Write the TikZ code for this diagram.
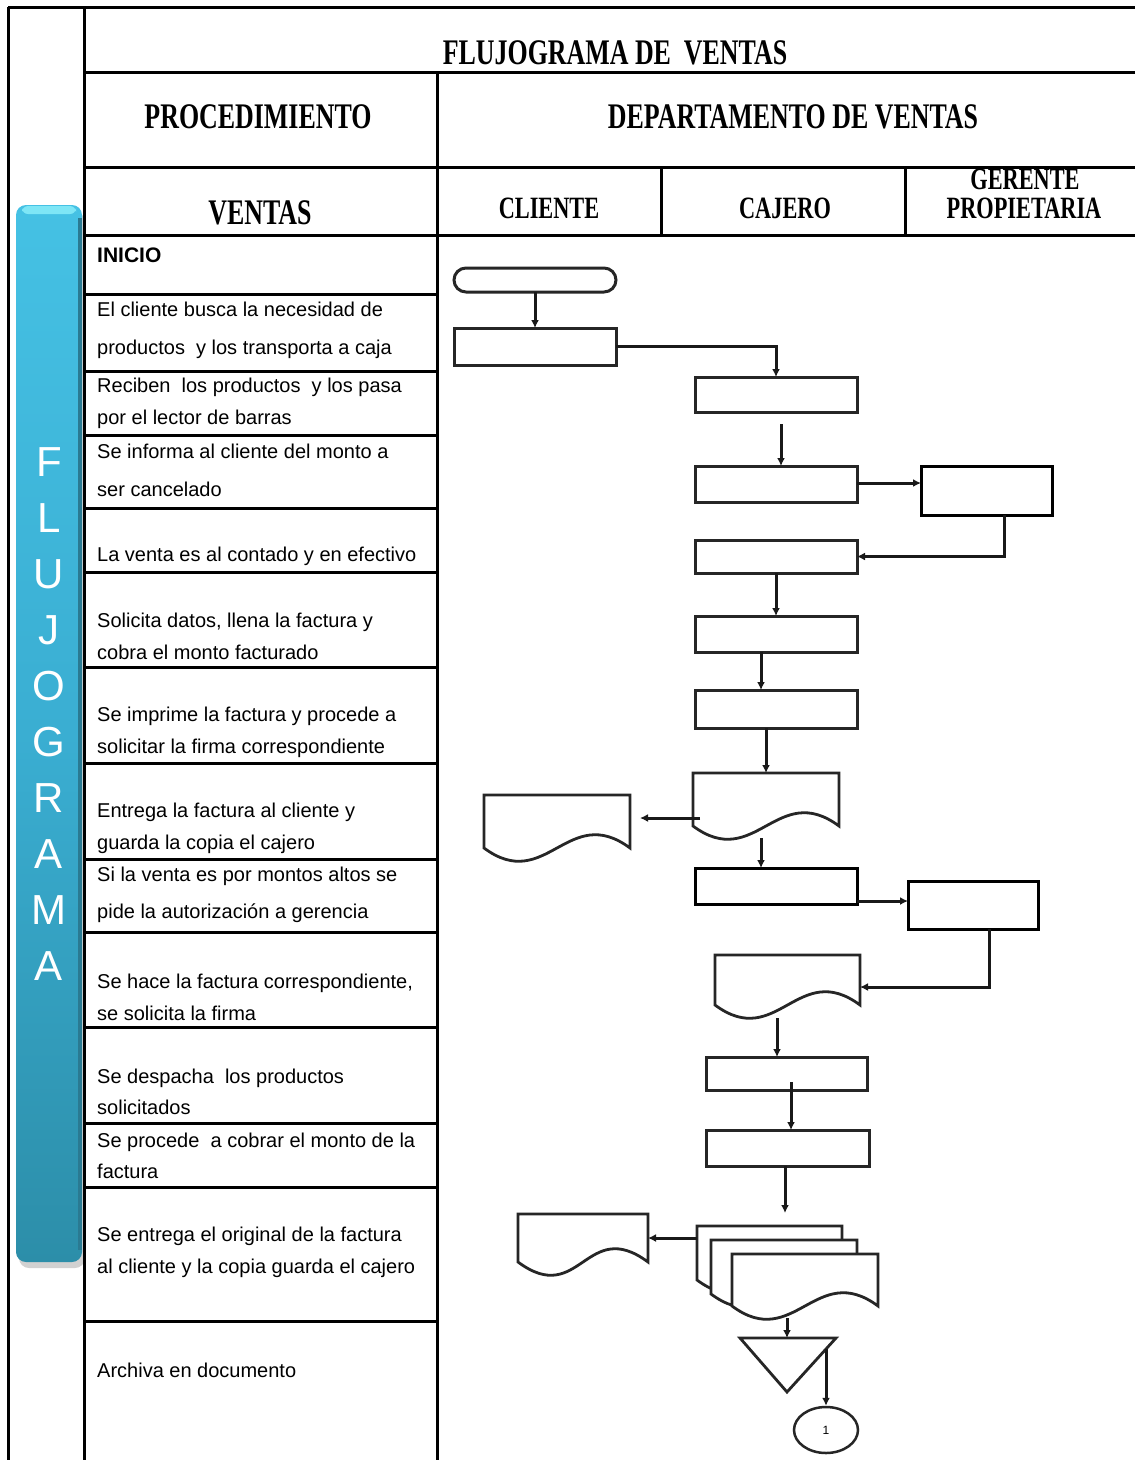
\documentclass[tikz,border=0pt]{standalone}
\usepackage{fontspec}
\usepackage{graphicx}
\setmainfont{Liberation Sans}
\newfontfamily\hdrfont{Liberation Serif}
\usetikzlibrary{arrows.meta,calc,shapes.geometric}

\definecolor{bartop}{HTML}{45C1E4}
\definecolor{barmid}{HTML}{3AAED2}
\definecolor{barbot}{HTML}{2C8EA9}
\definecolor{baredge}{HTML}{2A7A92}
\definecolor{barhi}{HTML}{7EE6F6}

% condensed bold serif for the table headings
\newcommand{\hdr}[2]{{\hdrfont\bfseries\fontsize{#1}{#1}\selectfont\scalebox{0.72}[1]{#2}}}

\tikzset{
  tbl/.style={line width=3pt, black},
  box/.style={rectangle, draw=black!85, line width=3pt, fill=white,
              inner sep=0pt, outer sep=0pt},
  docnode/.style={rectangle, draw=none, inner sep=0pt, outer sep=0pt},
  docpath/.style={insert path={(#1.south west) -- (#1.north west) -- (#1.north east)
      -- (#1.south east) .. controls +(-62,-46) and +(62,46) .. (#1.south west) -- cycle}},
  docline/.style={draw=black!85, line width=2.8pt, fill=white, line join=miter},
  arr/.style={draw=black!90, line width=3pt, -{Latex[length=8pt,width=8pt]}},
  proc/.style={anchor=west, align=left, inner sep=0pt, font=\fontsize{20}{#1}\selectfont},
  proc/.default=32,
  barletter/.style={text=white, inner sep=0pt, font=\fontsize{42}{42}\selectfont},
}

\begin{document}
\begin{tikzpicture}[x=1pt,y=-1pt]
\useasboundingbox (0,0) rectangle (1135,1460);
\fill[white] (0,0) rectangle (1135,1460);

% ---------- side bar ----------
\fill[black!18, rounded corners=10pt] (19,212) rectangle (85,1268);
\shade[top color=bartop, bottom color=barbot, middle color=barmid, rounded corners=10pt]
  (16,205) rectangle (82,1262);
\fill[barhi, rounded corners=6pt] (22,206) rectangle (76,214);
\fill[baredge] (78,218) rectangle (82,1250);
\foreach \ch [count=\i] in {F,L,U,J,O,G,R,A,M,A}
  \node[barletter] (bl\i) at (49,406+56*\i) {\ch};

% ---------- table ----------
\draw[tbl] (8,7) -- (1135,7);
\draw[tbl] (8,7) -- (8,1460);
\draw[tbl] (84,7) -- (84,1460);
\draw[tbl] (84,72) -- (1135,72);
\draw[tbl] (84,167) -- (1135,167);
\draw[tbl] (84,235) -- (1135,235);
\draw[tbl] (437,72) -- (437,1460);
\draw[tbl] (661,167) -- (661,235);
\draw[tbl] (905,167) -- (905,235);
\foreach \yy in {294,371,435,508,572,667,763,859,932,1027,1123,1187,1321}
  \draw[tbl] (84,\yy) -- (437,\yy);

% ---------- headings ----------
\node[anchor=base] (title) at (615,64) {\hdr{36}{FLUJOGRAMA DE\ \ VENTAS}};
\node[anchor=base] (hproc) at (258,128) {\hdr{36}{PROCEDIMIENTO}};
\node[anchor=base] (hdep) at (793,128) {\hdr{36}{DEPARTAMENTO DE VENTAS}};
\node[anchor=base] (hven) at (260,224) {\hdr{36}{VENTAS}};
\node[anchor=base] (hcli) at (549,218.5) {\hdr{31}{CLIENTE}};
\node[anchor=base] (hcaj) at (785,218.5) {\hdr{31}{CAJERO}};
\node[anchor=base] (hger) at (1025,189.5) {\hdr{31}{GERENTE}};
\node[anchor=base] (hprop) at (1024,218.5) {\hdr{31}{PROPIETARIA}};

% ---------- procedure steps ----------
\node[proc, font=\bfseries\fontsize{21}{21}\selectfont] (r0) at (97,255) {INICIO};
\node[proc=38] (r1) at (97,330) {El cliente busca la necesidad de\\productos \ y los transporta a caja};
\node[proc] (r2) at (97,403) {Reciben \ los productos \ y los pasa\\por el lector de barras};
\node[proc=38] (r3) at (97,470) {Se informa al cliente del monto a\\ser cancelado};
\node[proc] (r4) at (97,556) {La venta es al contado y en efectivo};
\node[proc] (r5) at (97,636) {Solicita datos, llena la factura y\\cobra el monto facturado};
\node[proc] (r6) at (97,732) {Se imprime la factura y procede a\\solicitar la firma correspondiente};
\node[proc] (r7) at (97,828) {Entrega la factura al cliente y\\guarda la copia el cajero};
\node[proc=37] (r8) at (97,894.5) {Si la venta es por montos altos se\\pide la autorización a gerencia};
\node[proc] (r9) at (97,997) {Se hace la factura correspondiente,\\se solicita la firma};
\node[proc=31] (r10) at (97,1091.5) {Se despacha \ los productos\\solicitados};
\node[proc=31] (r11) at (97,1155.5) {Se procede \ a cobrar el monto de la\\factura};
\node[proc] (r12) at (97,1252) {Se entrega el original de la factura\\al cliente y la copia guarda el cajero};
\node[proc] (r13) at (97,1370) {Archiva en documento};

% ---------- flow symbols ----------
\node[box, rounded corners=12pt, minimum width=162pt, minimum height=24pt] (t1) at (535,280) {};
\node[box, minimum width=162pt, minimum height=37pt] (b2) at (535,346.5) {};
\node[box, minimum width=162pt, minimum height=35pt] (b3) at (776,394.5) {};
\node[box, minimum width=162pt, minimum height=36pt] (b4) at (776,484) {};
\node[box, draw=black, minimum width=131pt, minimum height=49pt] (b5) at (986.5,490.5) {};
\node[box, minimum width=162pt, minimum height=33pt] (b6) at (776,556.5) {};
\node[box, minimum width=162pt, minimum height=36pt] (b7) at (776,634) {};
\node[box, minimum width=162pt, minimum height=38pt] (b8) at (776,709) {};
\node[docnode, minimum width=146pt, minimum height=53pt] (d9) at (766,799.5) {};
\path[docline, docpath=d9];
\node[docnode, minimum width=146pt, minimum height=53pt] (d10) at (557,821.5) {};
\path[docline, docpath=d10];
\node[box, draw=black, minimum width=162pt, minimum height=36pt] (b11) at (776,886) {};
\node[box, draw=black, minimum width=130pt, minimum height=48pt] (b12) at (973,905) {};
\node[docnode, minimum width=145pt, minimum height=50pt] (d13) at (787.5,980) {};
\path[docline, docpath=d13];
\node[box, minimum width=161pt, minimum height=33pt] (b14) at (786.5,1073.5) {};
\node[box, minimum width=163pt, minimum height=36pt] (b15) at (787.5,1148) {};
\node[docnode, minimum width=145pt, minimum height=54pt] (md1) at (769.5,1253) {};
\path[docline, docpath=md1];
\node[docnode, minimum width=146pt, minimum height=54pt] (md2) at (784,1267) {};
\path[docline, docpath=md2];
\node[docnode, minimum width=146pt, minimum height=52pt] (md3) at (805,1280) {};
\path[docline, docpath=md3];
\node[docnode, minimum width=130pt, minimum height=48pt] (d17) at (583,1238) {};
\path[docline, docpath=d17];
\coordinate (trl) at (740,1338);
\coordinate (trr) at (836,1338);
\coordinate (tra) at (787,1392);
\coordinate (trtop) at (787,1338);
\draw[docline] (trl) -- (trr) -- (tra) -- cycle;
\node[ellipse, draw=black!85, line width=2.5pt, minimum width=64pt, minimum height=46pt,
      inner sep=0pt, font=\fontsize{12}{12}\selectfont] (c1) at (826,1430) {1};

% ---------- connectors ----------
\draw[arr] (t1.south) -- (b2.north);
\draw[arr] (b2.east) -| (b3.north);
\coordinate (s4) at (781,424);
\draw[arr] (s4) -- (s4 |- b4.north);
\draw[arr] ($(b4.east)+(0,-1)$) -- ($(b5.west)+(0,-7.5)$);
\draw[arr] ($(b5.south)+(17.5,0)$) |- (b6.east);
\draw[arr] (b6.south) -- (b7.north);
\draw[arr] ($(b7.south)+(-15,0)$) -- ($(b8.north)+(-15,0)$);
\draw[arr] (b8.south -| d9.north) -- (d9.north);
\coordinate (s10) at (700,818);
\draw[arr] (s10) -- ($(d10.east)+(10,-3.5)$);
\coordinate (s11) at (761,838);
\draw[arr] (s11) -- (s11 |- b11.north);
\draw[arr] ($(b11.east)+(0,15)$) -- ($(b12.west)+(0,-4)$);
\draw[arr] ($(b12.south)+(16,0)$) |- ($(d13.east)+(0,7)$);
\coordinate (s14) at (777,1018);
\draw[arr] (s14) -- (s14 |- b14.north);
\coordinate (s15) at (791,1082);
\draw[arr] (s15) -- (s15 |- b15.north);
\coordinate (e16) at (785,1213);
\draw[arr] (b15.south -| e16) -- (e16);
\draw[arr] (md1.west |- d17.east) -- (d17.east);
\coordinate (s18) at (787,1318);
\draw[arr] (s18) -- (trtop);
\coordinate (s19) at (826,1349);
\draw[arr] (s19) -- (c1.north);
\end{tikzpicture}
\end{document}
